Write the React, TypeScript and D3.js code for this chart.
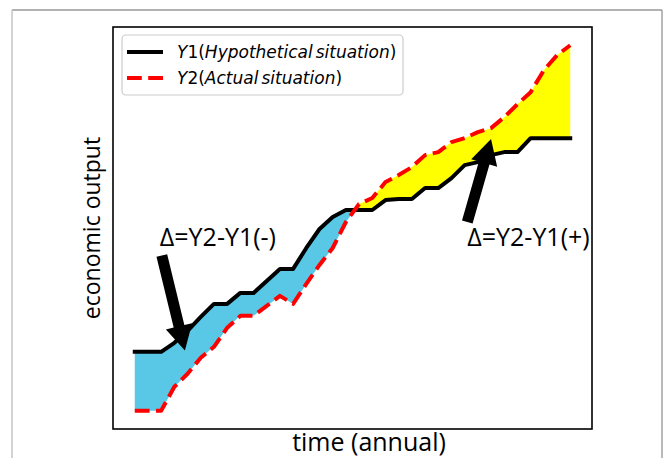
import React from 'react';
import * as d3 from 'd3';

// time index (annual)
const years = [0, 1, 2, 3, 4, 5, 6, 7, 8, 9, 10, 11, 12, 13, 14, 15, 16, 17, 18, 19, 20, 21, 22, 23, 24, 25, 26, 27, 28, 29, 30, 31, 32, 33];
// Y1: hypothetical situation
const y1Values = [19.5, 19.5, 19.5, 21.75, 24.75, 28.25, 31.5, 31.5, 34.25, 34.25, 37.25, 40.25, 40.25, 45.5, 50.25, 53.25, 55, 55, 55, 57.5, 57.75, 57.75, 60.5, 60.5, 63, 66.25, 67, 68.75, 69.5, 69.5, 73, 73, 73, 73];
// Y2: actual situation
const y2Values = [4.75, 4.75, 4.75, 10.75, 14, 18, 20.75, 25.5, 28.5, 28.5, 31, 33.5, 31.5, 36.5, 41.25, 45.5, 52, 56.5, 58, 62, 63.75, 65.75, 68.75, 69.5, 72, 73, 74.5, 75.5, 78.25, 81.5, 84.5, 90, 93.75, 96.25];

const legendLabels = ['Y1', 'Y2'];
const annotationTexts = ['Δ=Y2-Y1(-)', 'Δ=Y2-Y1(+)'];
// annotations in data coordinates: text position, arrow tail, arrow tip
const annTextX = [1.9, 25.2];
const annTextY = [46, 46];
const annTailX = [2.05, 25.2];
const annTailY = [43.6, 52];
const annTipX = [3.8, 27.0];
const annTipY = [19.8, 72.8];

const W = 664;
const H = 458;
const L = 113, T = 27, R = 592, B = 429;

function arrowPath(x0: number, y0: number, x1: number, y1: number, w: number, hw: number, hl: number) {
  const dx = x1 - x0, dy = y1 - y0;
  const len = Math.sqrt(dx * dx + dy * dy);
  const ux = dx / len, uy = dy / len;
  const nx = -uy, ny = ux;
  const bx = x1 - ux * hl, by = y1 - uy * hl;
  const p = [
    [x0 + nx * w / 2, y0 + ny * w / 2],
    [bx + nx * w / 2, by + ny * w / 2],
    [bx + nx * hw / 2, by + ny * hw / 2],
    [x1, y1],
    [bx - nx * hw / 2, by - ny * hw / 2],
    [bx - nx * w / 2, by - ny * w / 2],
    [x0 - nx * w / 2, y0 - ny * w / 2],
  ];
  return 'M' + p.map(q => q[0].toFixed(2) + ',' + q[1].toFixed(2)).join('L') + 'Z';
}

export default function App() {
  const xMin = d3.min(years)!, xMax = d3.max(years)!;
  const xPad = (xMax - xMin) * 0.05;
  const x = d3.scaleLinear().domain([xMin - xPad, xMax + xPad]).range([L, R]);
  const allY = [...y1Values, ...y2Values];
  const yMin = d3.min(allY)!, yMax = d3.max(allY)!;
  const yPad = (yMax - yMin) * 0.05;
  const y = d3.scaleLinear().domain([yMin - yPad, yMax + yPad]).range([B, T]);

  type P = { t: number; a: number; b: number };
  const pts: P[] = [];
  for (let i = 0; i < years.length; i++) {
    pts.push({ t: years[i], a: y1Values[i], b: y2Values[i] });
    if (i < years.length - 1) {
      const d0 = y1Values[i] - y2Values[i];
      const d1 = y1Values[i + 1] - y2Values[i + 1];
      if (d0 * d1 < 0) {
        const f = d0 / (d0 - d1);
        const t = years[i] + f * (years[i + 1] - years[i]);
        const v = y1Values[i] + f * (y1Values[i + 1] - y1Values[i]);
        pts.push({ t, a: v, b: v });
      }
    }
  }
  const blueArea = d3.area<P>().defined(d => d.b <= d.a).x(d => x(d.t)).y0(d => y(d.a)).y1(d => y(d.b));
  const yellowArea = d3.area<P>().defined(d => d.b >= d.a).x(d => x(d.t)).y0(d => y(d.a)).y1(d => y(d.b));
  const line = d3.line<number>().x((_, i) => x(years[i])).y(d => y(d));

  const annFont = "'Open Sans', 'Noto Sans', sans-serif";
  const legFont = "'DejaVu Sans', sans-serif";

  return (
    <svg width={W} height={H} style={{ position: 'absolute', left: 0, top: 0, background: '#fff' }}>
      {/* outer figure border */}
      <line x1={12} y1={10} x2={662} y2={10} stroke="#666" strokeWidth={1.2} />
      <line x1={12} y1={10} x2={12} y2={H} stroke="#c4c4c4" strokeWidth={1.5} />
      <line x1={662} y1={10} x2={662} y2={H} stroke="#8a8a8a" strokeWidth={1.2} />

      <path d={blueArea(pts) || ''} fill="#58C8E6" stroke="none" />
      <path d={yellowArea(pts) || ''} fill="#FFFF00" stroke="none" />
      <path d={line(y1Values) || ''} fill="none" stroke="#000" strokeWidth={4} strokeLinejoin="round" strokeLinecap="square" />
      <path d={line(y2Values) || ''} fill="none" stroke="#FF0000" strokeWidth={4} strokeLinejoin="round" strokeDasharray="14.8,6.4" />

      {annotationTexts.map((txt, i) => (
        <g key={i}>
          <path d={arrowPath(x(annTailX[i]), y(annTailY[i]), x(annTipX[i]), y(annTipY[i]), 11, 27, 25)} fill="#000" />
          <text x={x(annTextX[i])} y={y(annTextY[i])} fontFamily={annFont} fontSize={25} fill="#000">{txt}</text>
        </g>
      ))}

      <rect x={L} y={T} width={R - L} height={B - T} fill="none" stroke="#000" strokeWidth={1.6} />

      <text x={369} y={451} textAnchor="middle" fontFamily={annFont} fontSize={25} fill="#000">time (annual)</text>
      <text transform={`translate(100,228) rotate(-90)`} textAnchor="middle" fontFamily={annFont} fontSize={23} fill="#000">economic output</text>

      {/* legend */}
      <rect x={122} y={35} width={281} height={60} rx={4} fill="#fff" fillOpacity={0.8} stroke="#cccccc" strokeWidth={1.2} />
      <line x1={127} y1={52} x2={163} y2={52} stroke="#000" strokeWidth={4} />
      <line x1={127} y1={78} x2={163} y2={78} stroke="#FF0000" strokeWidth={4} strokeDasharray="14.8,6.4" />
      <text x={177} y={58} fontFamily={legFont} fontSize={17} fill="#000">
        <tspan fontStyle="italic">{legendLabels[0][0]}</tspan>
        <tspan>{legendLabels[0][1]}(</tspan>
        <tspan fontStyle="italic">Hypothetical</tspan>
        <tspan fontStyle="italic" dx={3}>situation</tspan>
        <tspan>)</tspan>
      </text>
      <text x={177} y={84} fontFamily={legFont} fontSize={17} fill="#000">
        <tspan fontStyle="italic">{legendLabels[1][0]}</tspan>
        <tspan>{legendLabels[1][1]}(</tspan>
        <tspan fontStyle="italic">Actual</tspan>
        <tspan fontStyle="italic" dx={3}>situation</tspan>
        <tspan>)</tspan>
      </text>
    </svg>
  );
}
